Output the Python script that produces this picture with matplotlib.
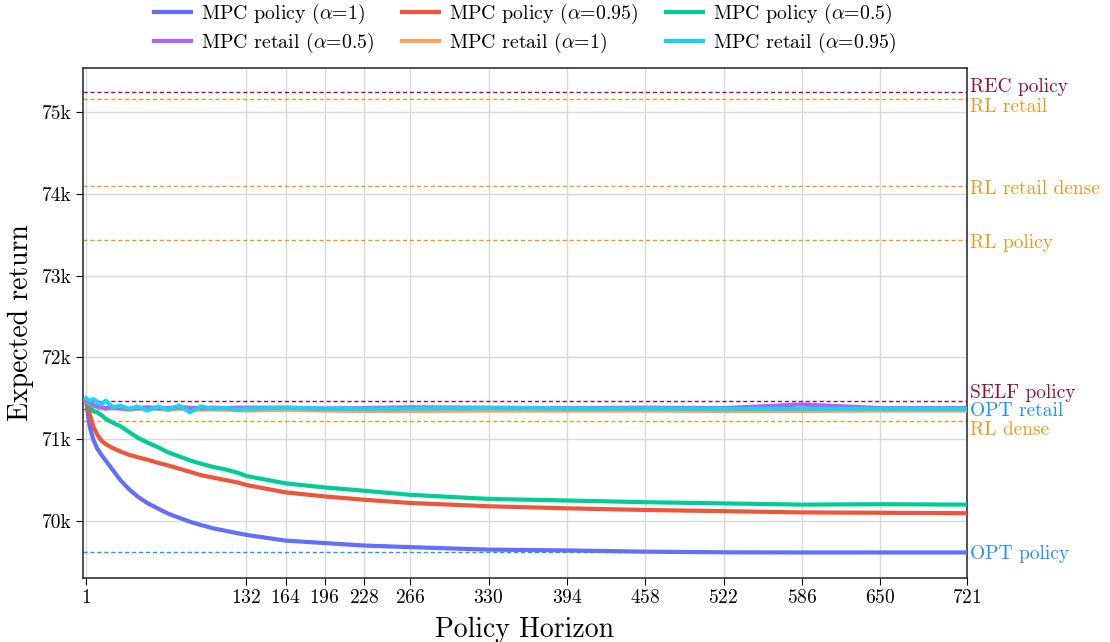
#!/usr/bin/env python3
import matplotlib
matplotlib.use('Agg')
import matplotlib.pyplot as plt
from matplotlib.ticker import FuncFormatter

plt.rcParams['font.family'] = ['cmr10', 'DejaVu Serif']
plt.rcParams['mathtext.fontset'] = 'cm'
plt.rcParams['axes.formatter.use_mathtext'] = True

# policy horizon samples
horizon = [1, 4, 7, 10, 13, 17, 23, 29, 36, 43, 51, 60, 68, 77, 86, 95, 105,
           115, 125, 132, 164, 196, 228, 266, 330, 394, 458, 522, 586, 650, 721]

mpc_policy_a1 = [71480, 71150, 70990, 70890, 70820, 70740, 70620, 70500, 70390, 70300,
                 70220, 70150, 70090, 70040, 69990, 69950, 69910, 69880, 69850, 69830,
                 69760, 69730, 69700, 69680, 69650, 69640, 69625, 69617, 69615, 69615, 69615]
mpc_policy_a095 = [71480, 71310, 71150, 71060, 70990, 70940, 70890, 70850, 70810, 70780,
                   70750, 70710, 70680, 70640, 70600, 70560, 70530, 70500, 70470, 70440,
                   70350, 70300, 70260, 70220, 70180, 70155, 70135, 70120, 70105, 70100, 70095]
mpc_policy_a05 = [71480, 71400, 71340, 71330, 71300, 71250, 71200, 71160, 71090, 71020,
                  70960, 70900, 70840, 70790, 70740, 70700, 70660, 70630, 70590, 70550,
                  70460, 70410, 70370, 70320, 70270, 70250, 70230, 70215, 70200, 70205, 70200]

mpc_retail_a05 = [71480, 71450, 71420, 71400, 71390, 71380, 71390, 71380, 71370, 71380,
                  71390, 71380, 71380, 71390, 71385, 71380, 71385, 71380, 71385, 71385,
                  71385, 71375, 71380, 71390, 71385, 71380, 71385, 71380, 71425, 71380, 71380]
mpc_retail_a1 = [71470, 71440, 71410, 71390, 71380, 71370, 71380, 71370, 71360, 71370,
                 71380, 71370, 71360, 71370, 71365, 71360, 71365, 71360, 71355, 71350,
                 71360, 71350, 71345, 71345, 71350, 71350, 71350, 71345, 71345, 71350, 71350]
mpc_retail_a095 = [71500, 71470, 71490, 71460, 71420, 71470, 71390, 71410, 71370, 71400,
                   71350, 71400, 71360, 71410, 71330, 71400, 71370, 71380, 71360, 71370,
                   71385, 71375, 71370, 71375, 71380, 71375, 71375, 71370, 71370, 71370, 71370]

# reference levels (horizontal dashed lines)
ref_names = ['REC policy', 'RL retail', 'RL retail dense', 'RL policy',
             'SELF policy', 'OPT retail', 'RL dense', 'OPT policy']
ref_values = [75245, 75160, 74100, 73440, 71465, 71370, 71220, 69620]
ref_label_y = [75310, 75060, 74060, 73400, 71565, 71340, 71115, 69600]
ref_colors = ['#8B1538', '#E89A1F', '#E89A1F', '#E89A1F',
              '#8B1538', '#1E90FF', '#E89A1F', '#1E90FF']

xticks = [1, 132, 164, 196, 228, 266, 330, 394, 458, 522, 586, 650, 721]
yticks = [70000, 71000, 72000, 73000, 74000, 75000]

fig = plt.figure(figsize=(11.1, 6.42), dpi=100)
ax = fig.add_axes([0.0748, 0.0997, 0.7964, 0.7943])

for yv, col in zip(ref_values, ref_colors):
    ax.axhline(yv, color=col, lw=1.0, dashes=(3, 2), zorder=2)

series = [
    ('MPC policy ($\\alpha$=1)', mpc_policy_a1, '#636EFA'),
    ('MPC retail ($\\alpha$=0.5)', mpc_retail_a05, '#AB63FA'),
    ('MPC policy ($\\alpha$=0.95)', mpc_policy_a095, '#EF553B'),
    ('MPC retail ($\\alpha$=1)', mpc_retail_a1, '#FFA15A'),
    ('MPC policy ($\\alpha$=0.5)', mpc_policy_a05, '#00CC96'),
    ('MPC retail ($\\alpha$=0.95)', mpc_retail_a095, '#19D3F3'),
]
# draw retail curves over policy curves
order = [0, 2, 4, 3, 1, 5]
lines = {}
for i in order:
    name, vals, col = series[i]
    ln, = ax.plot(horizon, vals, color=col, lw=3.0, label=name, zorder=3,
                  solid_joinstyle='round')
    lines[i] = ln

for name, yv, col in zip(ref_names, ref_label_y, ref_colors):
    ax.text(1.003, yv, name, color=col, fontsize=14, va='center', ha='left',
            transform=ax.get_yaxis_transform(), clip_on=False)

ax.set_xlim(-1.5, 721)
ax.set_ylim(69303, 75538)
ax.set_xticks(xticks)
ax.set_yticks(yticks)
ax.yaxis.set_major_formatter(FuncFormatter(lambda v, p: '%dk' % round(v / 1000)))
ax.tick_params(labelsize=14, direction='out', length=5, width=0.8, pad=3)
ax.grid(True, color='#d9d9d9', lw=1.0, zorder=0)
ax.set_axisbelow(True)
for sp in ax.spines.values():
    sp.set_linewidth(1.2)
    sp.set_color('#333333')

ax.set_xlabel('Policy Horizon', fontsize=20, labelpad=7)
ax.set_ylabel('Expected return', fontsize=20, labelpad=6)

ax.legend([lines[i] for i in range(6)], [series[i][0] for i in range(6)],
          ncol=3, loc='lower center', bbox_to_anchor=(0.5, 1.0), frameon=False,
          fontsize=14.3, handlelength=1.85, columnspacing=1.4, handletextpad=0.5,
          labelspacing=0.25, borderaxespad=0.25)

plt.savefig('out.png', dpi=100)
plt.close()
